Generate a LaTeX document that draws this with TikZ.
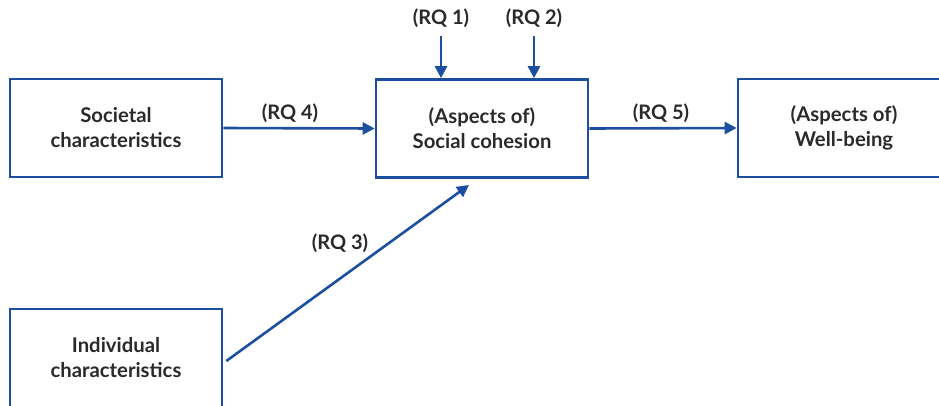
\documentclass[tikz,border=0pt]{standalone}
\usepackage{fontspec}
\setmainfont{Lato}
\usetikzlibrary{arrows.meta}
\definecolor{bblue}{HTML}{1C4FA0}
\definecolor{tgray}{HTML}{2A2A2A}
\tikzset{
  box/.style={draw=bblue, line width=2.6pt, minimum width=212pt, minimum height=98pt, inner sep=0pt, align=center, font=\fontsize{20.3}{25}\selectfont\bfseries, text=tgray},
  lbl/.style={font=\fontsize{20}{22}\selectfont\bfseries, text=tgray, inner sep=0pt},
  conn/.style={draw=bblue, line width=2.6pt, -{Triangle[length=12pt,width=12pt]}}
}
\begin{document}
\begin{tikzpicture}[x=1pt,y=-1pt]
\useasboundingbox (0,0) rectangle (939,405);
\clip (0,0) rectangle (939,405);
\node[box] (soc) at (116,128) {Societal\\characteristics};
\node[box] (coh) at (482,128.5) {(Aspects of)\\Social cohesion};
\node[box] (well) at (844,128) {(Aspects of)\\Well-being};
\node[box] (ind) at (116,358) {Individual\\characteristics};
\node[lbl] (rq1) at (441,18) {(RQ 1)};
\node[lbl] (rq2) at (534,18) {(RQ 2)};
\node[lbl] (rq4) at (290,113) {(RQ 4)};
\node[lbl] (rq5) at (661,113) {(RQ 5)};
\node[lbl] (rq3) at (340,243) {(RQ 3)};
\coordinate (rq1s) at (441,36);
\coordinate (rq2s) at (534,36);
\coordinate (rq3e) at (469,185);
\draw[conn] (rq1s) -- (rq1s |- coh.north);
\draw[conn] (rq2s) -- (rq2s |- coh.north);
\draw[conn] (soc.east) -- (coh.west);
\draw[conn] (coh.east) -- (well.west);
\draw[conn] ([xshift=3pt,yshift=-3pt]ind.east) -- (rq3e);
\end{tikzpicture}
\end{document}
